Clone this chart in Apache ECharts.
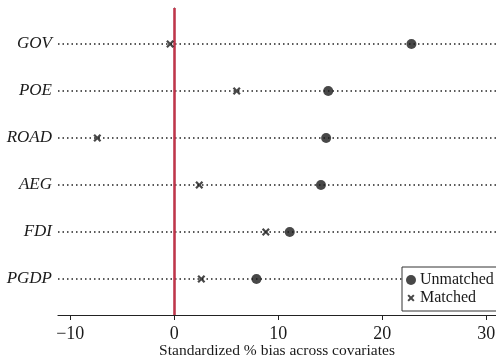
<!DOCTYPE html>
<html>
<head>
<meta charset="utf-8">
<script src="https://cdn.jsdelivr.net/npm/echarts@6/dist/echarts.min.js"></script>
<style>
  html, body { margin: 0; padding: 0; background: #fff; }
  #chart { width: 496px; height: 362px; }
</style>
</head>
<body>
<div id="chart"></div>
<script>
// covariates, bottom to top
const covariates = ['PGDP', 'FDI', 'AEG', 'ROAD', 'POE', 'GOV'];
const unmatched = [7.9, 11.1, 14.1, 14.6, 14.8, 22.8];
const matched = [2.6, 8.8, 2.4, -7.4, 6.0, -0.4];
const xTicks = [-10, 0, 10, 20, 30];

const crossPath = 'path://M2,0 L5,3 L8,0 L10,2 L7,5 L10,8 L8,10 L5,7 L2,10 L0,8 L3,5 L0,2 Z';
// same cross with empty margin so the legend icon comes out smaller than the dot
const crossIcon = 'path://M-2,-2 L-2,-2 M12,12 L12,12 M2,0 L5,3 L8,0 L10,2 L7,5 L10,8 L8,10 L5,7 L2,10 L0,8 L3,5 L0,2 Z';
const serif = '"Liberation Serif", "DejaVu Serif", serif';

const chart = echarts.init(document.getElementById('chart'));

const option = {
    animation: false,
    backgroundColor: '#fff',
    grid: {
        left: 58,
        right: 0,
        top: 8,
        bottom: 47,
        outerBoundsMode: 'none'
    },
    legend: {
        orient: 'vertical',
        left: 402,
        top: 267,
        padding: [5, 6, 5, 4],
        itemGap: 2,
        itemWidth: 10,
        itemHeight: 10,
        backgroundColor: '#fff',
        borderColor: '#333',
        borderWidth: 1,
        borderRadius: 0,
        textStyle: {
            fontFamily: serif,
            fontSize: 16,
            color: '#1a1a1a',
            padding: [0, 0, 0, -1]
        },
        data: [
            { name: 'Unmatched', icon: 'circle' },
            { name: 'Matched', icon: crossIcon, itemStyle: { color: '#1a1a1a' } }
        ]
    },
    xAxis: {
        type: 'value',
        min: -11.18,
        max: 30.93,
        name: 'Standardized % bias across covariates',
        nameLocation: 'middle',
        nameGap: 28,
        nameMoveOverlap: false,
        nameTextStyle: {
            fontFamily: serif,
            fontSize: 15.5,
            color: '#1a1a1a'
        },
        axisLine: { show: true, onZero: false, lineStyle: { color: '#222', width: 1.2 } },
        axisTick: {
            show: true,
            length: 5,
            customValues: xTicks,
            lineStyle: { color: '#222' }
        },
        axisLabel: {
            customValues: xTicks,
            fontFamily: serif,
            fontSize: 18,
            color: '#1a1a1a',
            margin: 10,
            formatter: v => (v < 0 ? '\u2212' + Math.abs(v) : String(v))
        },
        splitLine: { show: false }
    },
    yAxis: {
        type: 'value',
        min: 0.234,
        max: 6.766,
        axisLine: { show: true, lineStyle: { color: '#222', width: 1.2 } },
        axisTick: { show: false },
        axisLabel: {
            customValues: [1, 2, 3, 4, 5, 6],
            fontFamily: serif,
            fontStyle: 'italic',
            fontSize: 17,
            color: '#1a1a1a',
            margin: 6,
            formatter: v => covariates[Math.round(v) - 1] || ''
        },
        splitLine: { show: false }
    },
    series: [
        {
            name: 'Unmatched',
            type: 'scatter',
            symbol: 'circle',
            symbolSize: 10,
            itemStyle: { color: '#1a1a1a' },
            z: 5,
            data: unmatched.map((v, i) => [v, i + 1]),
            markLine: {
                silent: true,
                symbol: 'none',
                label: { show: false },
                lineStyle: { color: '#222', type: [1.5, 3], width: 1.5 },
                data: covariates.map((c, i) => ({ yAxis: i + 1 })),
                z: 1
            }
        },
        {
            name: 'Matched',
            type: 'scatter',
            symbol: crossPath,
            symbolSize: 8,
            itemStyle: { color: '#1a1a1a' },
            z: 5,
            data: matched.map((v, i) => [v, i + 1]),
            markLine: {
                silent: true,
                symbol: 'none',
                label: { show: false },
                lineStyle: { color: '#c0354a', type: 'solid', width: 2.5 },
                data: [{ xAxis: 0 }],
                z: 3
            }
        }
    ]
};

chart.setOption(option);
</script>
</body>
</html>
